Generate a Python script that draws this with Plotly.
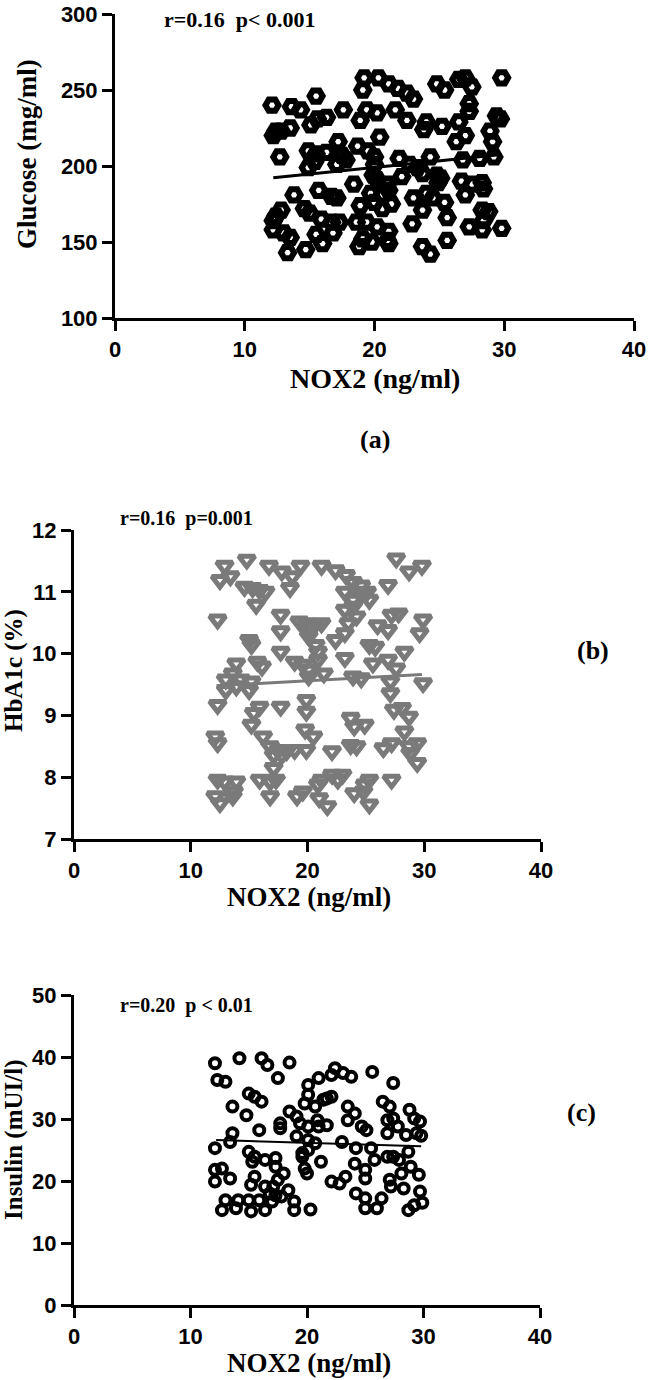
import plotly.graph_objects as go

# ---------------- Panel (a): Glucose vs NOX2 ----------------
a_nox2 = [19.2, 20.3, 21.1, 21.8, 22.5, 23.0, 19.1, 24.8, 25.4, 26.5, 27.0, 27.5, 29.8, 15.5, 12.1,
          13.6, 14.3, 17.6, 19.4, 20.2, 21.6, 27.3, 27.3, 29.4, 29.7, 15.6, 16.3, 15.1, 18.9, 22.5,
          23.8, 24.0, 25.2, 26.5, 13.5, 12.8, 12.2, 12.4, 28.9, 27.0, 26.3, 20.4, 17.2, 29.1, 18.7,
          12.7, 14.9, 15.5, 16.3, 15.4, 14.9, 17.5, 17.8, 17.1, 19.5, 20.0, 20.0, 21.9, 24.3, 26.8,
          28.1, 29.2, 22.7, 23.3, 23.7, 22.1, 19.9, 20.2, 21.0, 24.8, 24.9, 25.1, 26.7, 28.3, 28.4,
          18.4, 21.1, 19.7, 20.6, 13.8, 15.7, 16.7, 17.1, 23.0, 24.0, 24.5, 27.0, 25.4, 20.0, 21.3,
          20.6, 18.9, 23.7, 28.3, 14.6, 15.0, 12.8, 12.2, 12.4, 15.9, 16.7, 17.3, 25.6, 28.4, 12.2,
          13.0, 13.5, 15.5, 16.0, 16.8, 18.6, 19.4, 20.2, 21.1, 21.0, 19.8, 18.8, 22.9, 25.6, 27.3,
          28.3, 29.8, 13.3, 14.7, 23.7, 24.3, 21.1, 28.8, 19.1, 27.5]
a_glucose = [258, 258, 254, 251, 248, 244, 250, 254, 250, 257, 258, 252, 258, 246, 240,
             239, 237, 237, 237, 235, 237, 241, 236, 233, 231, 231, 232, 227, 230, 230,
             224, 229, 226, 229, 225, 223, 220, 223, 223, 220, 216, 219, 216, 216, 213,
             206, 210, 208, 209, 203, 199, 207, 204, 201, 210, 206, 201, 205, 206, 204,
             205, 206, 201, 199, 195, 193, 194, 191, 188, 194, 189, 192, 190, 189, 185,
             188, 184, 182, 181, 181, 184, 180, 179, 179, 182, 179, 181, 176, 176, 175,
             172, 174, 171, 171, 172, 169, 171, 164, 167, 165, 163, 163, 166, 164, 158,
             156, 153, 155, 149, 156, 163, 163, 160, 157, 151, 150, 147, 162, 151, 160,
             158, 159, 143, 145, 147, 142, 149, 170, 152, 188]
a_fit_x = [12.2, 29.8]
a_fit_y = [192.3, 207.5]

# ---------------- Panel (b): HbA1c vs NOX2 ----------------
b_nox2 = [12.9, 14.8, 16.7, 17.8, 19.4, 18.7, 21.2, 22.4, 23.3, 23.9, 24.6, 25.1, 27.6, 28.7, 29.8,
          12.5, 13.4, 14.6, 15.3, 15.9, 16.4, 15.6, 18.5, 26.9, 23.2, 23.9, 24.6, 25.3, 23.9, 23.2,
          12.3, 17.7, 19.3, 19.9, 20.6, 21.2, 20.1, 20.1, 17.7, 23.5, 24.2, 26.0, 26.9, 27.2, 27.8,
          29.6, 29.9, 15.0, 15.2, 22.4, 23.2, 25.3, 25.8, 20.7, 20.9, 17.7, 28.3, 23.2, 13.9, 15.7,
          16.1, 18.9, 19.6, 20.1, 20.9, 21.4, 25.6, 26.9, 27.6, 13.0, 13.6, 14.3, 15.2, 15.0, 13.0,
          13.9, 20.1, 23.9, 24.6, 27.1, 29.9, 27.1, 12.3, 15.9, 15.4, 17.7, 19.9, 19.9, 15.2, 27.4,
          28.1, 28.7, 23.7, 24.0, 24.9, 28.3, 19.8, 20.5, 12.1, 12.3, 16.2, 16.8, 17.5, 18.2, 18.9,
          17.1, 17.8, 19.9, 22.1, 23.7, 24.2, 26.5, 27.2, 28.7, 29.4, 28.8, 29.4, 17.1, 12.3, 12.9,
          13.9, 15.9, 16.8, 17.3, 21.2, 22.1, 22.6, 23.0, 25.3, 27.2, 12.1, 12.5, 13.6, 13.7, 16.8,
          19.1, 19.6, 21.0, 21.7, 24.0, 24.8, 25.3, 24.9, 20.9]
b_hba1c = [11.42, 11.52, 11.42, 11.33, 11.42, 11.25, 11.42, 11.35, 11.27, 11.16, 11.10, 11.00, 11.54, 11.33, 11.42,
           11.19, 11.25, 11.08, 11.06, 11.03, 11.00, 10.79, 11.06, 11.11, 11.00, 10.87, 10.95, 10.87, 10.76, 10.71,
           10.55, 10.63, 10.52, 10.49, 10.46, 10.49, 10.38, 10.28, 10.36, 10.49, 10.60, 10.46, 10.38, 10.63, 10.65,
           10.33, 10.55, 10.22, 10.14, 10.22, 10.33, 10.14, 10.11, 10.14, 10.03, 10.03, 10.03, 9.93, 9.84, 9.87,
           9.79, 9.87, 9.82, 9.74, 9.90, 9.68, 9.84, 9.90, 9.76, 9.58, 9.68, 9.58, 9.55, 9.41, 9.41,
           9.47, 9.63, 9.63, 9.60, 9.55, 9.52, 9.36, 9.17, 9.14, 9.04, 9.14, 9.25, 9.06, 8.85, 9.09,
           9.12, 8.98, 8.96, 8.82, 8.85, 8.74, 8.77, 8.66, 8.66, 8.55, 8.66, 8.50, 8.44, 8.42, 8.44,
           8.36, 8.36, 8.44, 8.42, 8.52, 8.50, 8.47, 8.55, 8.50, 8.55, 8.39, 8.23, 8.15, 7.96, 7.93,
           7.93, 7.96, 7.93, 7.96, 7.96, 8.04, 7.96, 8.04, 7.96, 7.96, 7.69, 7.58, 7.69, 7.77, 7.69,
           7.69, 7.77, 7.66, 7.53, 7.74, 7.77, 7.56, 7.88, 7.88]
b_fit_x = [12.2, 29.8]
b_fit_y = [9.48, 9.66]

# ---------------- Panel (c): Insulin vs NOX2 ----------------
c_nox2 = [12.1, 14.2, 16.1, 16.6, 18.5, 17.5, 12.3, 13.0, 22.4, 23.1, 23.8, 22.1, 25.6, 27.4, 20.1,
          21.0, 15.0, 15.5, 16.1, 13.6, 14.8, 15.9, 20.1, 21.7, 19.8, 20.7, 18.5, 19.1, 23.5, 24.1,
          23.5, 26.5, 27.1, 28.8, 29.2, 29.7, 27.4, 27.8, 26.9, 28.5, 29.4, 29.8, 17.7, 17.7, 21.7,
          20.9, 24.7, 25.1, 13.6, 13.4, 12.1, 19.1, 20.1, 20.7, 23.0, 15.0, 15.5, 15.3, 17.3, 19.6,
          20.1, 21.2, 24.2, 25.5, 25.8, 26.9, 27.9, 28.7, 28.9, 24.1, 25.0, 12.1, 12.7, 12.1, 13.4,
          17.3, 18.0, 17.5, 19.8, 20.0, 15.5, 15.2, 16.4, 17.1, 18.4, 22.1, 22.8, 23.3, 25.0, 27.1,
          27.2, 28.3, 29.6, 29.7, 29.9, 29.2, 24.2, 25.0, 25.0, 26.0, 26.4, 13.0, 14.1, 12.7, 13.9,
          15.2, 16.4, 15.9, 17.0, 17.3, 18.9, 18.9, 20.3, 28.7, 15.0, 17.8, 16.8, 21.0, 20.1, 19.4,
          22.1, 21.4, 26.9, 27.4, 28.1, 16.4, 19.6]
c_insulin = [39.0, 39.8, 39.8, 38.7, 39.1, 36.6, 36.3, 36.0, 38.2, 37.4, 36.8, 37.1, 37.6, 35.8, 35.5,
             36.6, 34.1, 33.6, 32.8, 32.0, 30.6, 28.2, 33.9, 33.3, 32.5, 32.0, 31.2, 30.4, 32.0, 30.9,
             29.8, 32.8, 32.0, 31.5, 30.1, 29.6, 30.1, 28.8, 27.7, 27.4, 27.7, 27.3, 29.3, 28.5, 29.0,
             29.8, 28.8, 28.2, 27.7, 26.3, 25.3, 27.2, 26.6, 26.1, 26.3, 24.7, 23.9, 23.1, 23.7, 24.5,
             25.0, 23.1, 25.3, 25.3, 23.4, 23.9, 23.4, 24.7, 22.3, 22.8, 21.8, 21.8, 22.0, 19.9, 20.4,
             22.3, 21.2, 20.2, 22.0, 21.2, 20.7, 19.4, 19.1, 19.1, 18.5, 19.9, 19.6, 20.7, 20.4, 20.2,
             19.1, 18.8, 21.0, 18.3, 16.5, 16.1, 18.0, 17.2, 15.6, 15.6, 17.2, 16.9, 16.9, 15.3, 15.6,
             15.1, 15.3, 16.9, 16.7, 17.7, 16.7, 15.3, 15.4, 15.3, 16.9, 17.5, 18.0, 28.8, 28.8, 29.3,
             33.6, 33.1, 29.8, 23.9, 21.2, 23.4, 23.9]
c_fit_x = [12.2, 29.8]
c_fit_y = [26.6, 25.6]

# ---------------- Text ----------------
x_title = "NOX2 (ng/ml)"
y_titles = ["Glucose (mg/ml)", "HbA1c (%)", "Insulin (mUI/l)"]
stats_text = ["r=0.16  p< 0.001", "r=0.16  p=0.001", "r=0.20  p < 0.01"]
panel_tags = ["(a)", "(b)", "(c)"]
x_ticks = [0, 10, 20, 30, 40]
a_yticks = [100, 150, 200, 250, 300]
b_yticks = [7, 8, 9, 10, 11, 12]
c_yticks = [0, 10, 20, 30, 40, 50]

W, H = 648, 1380
GRAY = "rgb(122,122,122)"
SERIF = "Liberation Serif"
SANS = "Liberation Sans"

def px(x):
    return x / W

def py(y):
    return 1 - y / H

fig = go.Figure()

# (a)
fig.add_trace(go.Scatter(x=a_fit_x, y=a_fit_y, mode="lines", line=dict(color="black", width=3),
                         xaxis="x", yaxis="y", showlegend=False, hoverinfo="skip"))
fig.add_trace(go.Scatter(x=a_nox2, y=a_glucose, mode="markers", xaxis="x", yaxis="y", showlegend=False,
                         marker=dict(symbol="hexagon2-open", size=13, color="black",
                                     line=dict(color="black", width=6)), cliponaxis=False))
# (b)
fig.add_trace(go.Scatter(x=b_nox2, y=b_hba1c, mode="markers", xaxis="x2", yaxis="y2", showlegend=False,
                         marker=dict(symbol="triangle-down-open", size=14, color=GRAY,
                                     line=dict(color=GRAY, width=5)), cliponaxis=False))
fig.add_trace(go.Scatter(x=b_fit_x, y=b_fit_y, mode="lines", line=dict(color=GRAY, width=3),
                         xaxis="x2", yaxis="y2", showlegend=False, hoverinfo="skip"))
# (c)
fig.add_trace(go.Scatter(x=c_nox2, y=c_insulin, mode="markers", xaxis="x3", yaxis="y3", showlegend=False,
                         marker=dict(symbol="circle-open", size=10, color="black",
                                     line=dict(color="black", width=4)), cliponaxis=False))
fig.add_trace(go.Scatter(x=c_fit_x, y=c_fit_y, mode="lines", line=dict(color="black", width=2),
                         xaxis="x3", yaxis="y3", showlegend=False, hoverinfo="skip"))

def axis_common(fs):
    return dict(showline=True, linewidth=3, linecolor="black", ticks="outside", ticklen=10,
                tickwidth=3, tickcolor="black", showgrid=False, zeroline=False, automargin=False,
                ticklabeloverflow="allow",
                tickfont=dict(family=SANS, size=fs, color="black", weight="bold"))

fig.update_layout(
    width=W, height=H, margin=dict(l=0, r=0, t=0, b=0, autoexpand=False),
    paper_bgcolor="white", plot_bgcolor="white", showlegend=False,
    xaxis=dict(domain=[px(115), px(634)], anchor="y", range=[0, 40], tickvals=x_ticks, **axis_common(22)),
    yaxis=dict(domain=[py(318), py(14)], anchor="x", range=[100, 300], tickvals=a_yticks, **axis_common(22)),
    xaxis2=dict(domain=[px(74), px(541)], anchor="y2", range=[0, 40], tickvals=x_ticks, **axis_common(22)),
    yaxis2=dict(domain=[py(839), py(530)], anchor="x2", range=[7, 12], tickvals=b_yticks, **axis_common(22)),
    xaxis3=dict(domain=[px(74), px(540)], anchor="y3", range=[0, 40], tickvals=x_ticks, **axis_common(22)),
    yaxis3=dict(domain=[py(1305), py(995)], anchor="x3", range=[0, 50], tickvals=c_yticks, **axis_common(22)),
)

def ann(text, x, y, size, angle=0, xanchor="center"):
    fig.add_annotation(text="<b>" + text + "</b>", x=px(x), y=py(y), xref="paper", yref="paper",
                       showarrow=False, textangle=angle, xanchor=xanchor, yanchor="middle",
                       font=dict(family=SERIF, size=size, color="black"))

# stats
ann(stats_text[0], 162, 20, 22, xanchor="left")
ann(stats_text[1], 118, 519, 20, xanchor="left")
ann(stats_text[2], 118, 1005, 20, xanchor="left")
# x titles
ann(x_title, 375, 379, 28)
ann(x_title, 309, 897, 27)
ann(x_title, 309, 1363, 27)
# y titles
ann(y_titles[0], 27, 154, 27, angle=-90)
ann(y_titles[1], 14, 671, 25, angle=-90)
ann(y_titles[2], 14, 1140, 25, angle=-90)
# panel tags
ann(panel_tags[0], 375, 440, 26)
ann(panel_tags[1], 593, 650, 26)
ann(panel_tags[2], 581, 1112, 26)

fig.write_html("out.html")
